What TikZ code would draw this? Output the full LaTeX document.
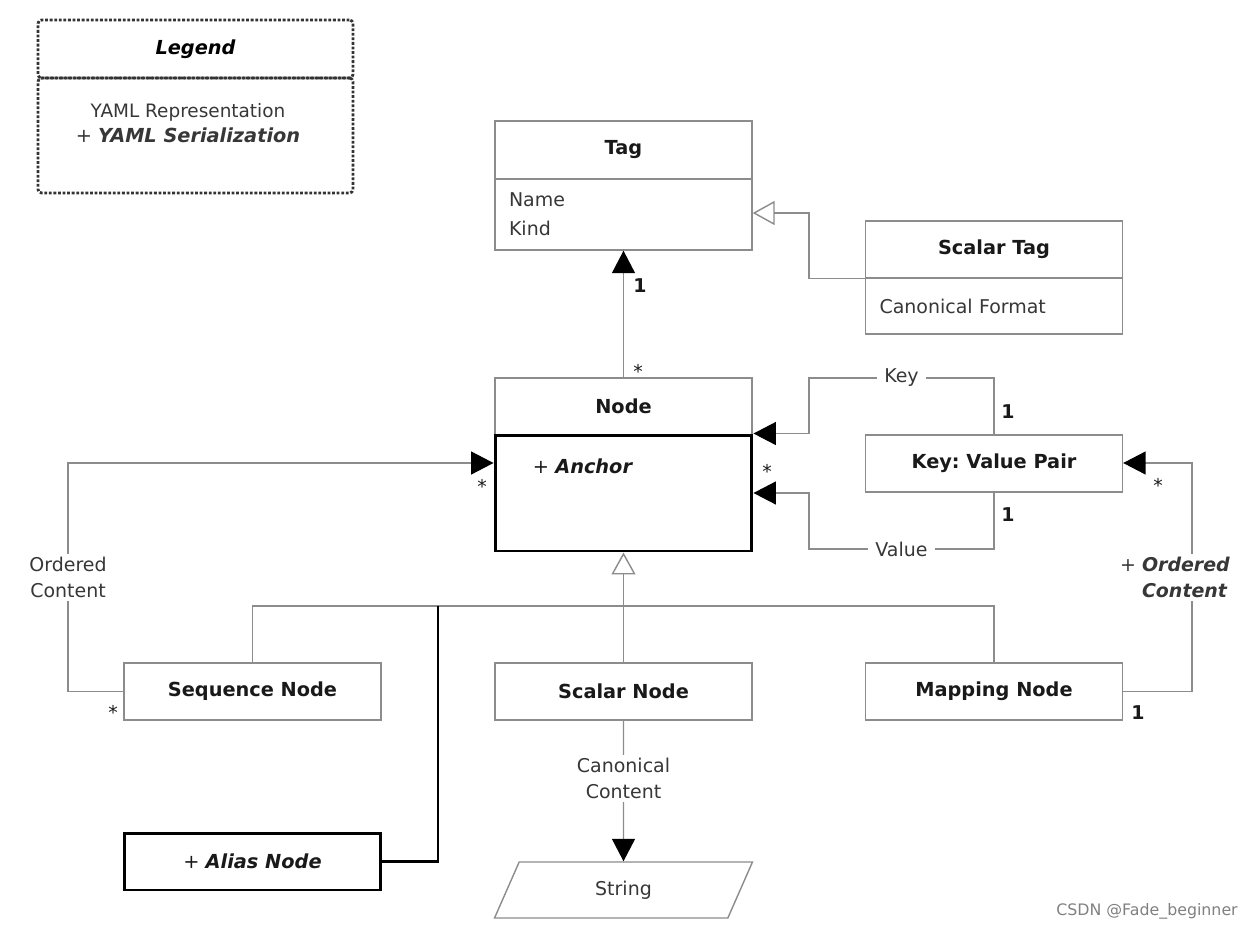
\documentclass[tikz,border=0pt]{standalone}
\usepackage{fontspec}
\setmainfont{DejaVu Sans}
\usetikzlibrary{arrows.meta,shapes.geometric}
\definecolor{linegray}{RGB}{140,140,140}
\definecolor{labelgray}{RGB}{55,55,55}

\begin{document}
\begin{tikzpicture}[x=0.02cm,y=-0.02cm]
    \tikzset{box/.style = {draw=linegray, line width=0.8pt, fill=white, minimum width=5.14cm, minimum height=1.14cm, inner sep=0pt, text=black!90, font=\fontsize{11}{13}\selectfont\bfseries}}
    \tikzset{heavybox/.style = {box, draw=black, line width=1.7pt}}
    \tikzset{attrbox/.style = {box, text=labelgray, font=\fontsize{10.8}{16.4}\selectfont, text width=4.58cm, align=left, inner xsep=0.28cm}}
    \tikzset{legendbox/.style = {draw=black!80, densely dotted, line width=1.6pt, minimum width=6.3cm, inner sep=0pt, font=\fontsize{11}{13}\selectfont\bfseries\itshape}}
    \tikzset{role/.style = {font=\fontsize{10.8}{14.5}\selectfont, text=labelgray, fill=white, inner xsep=4pt, inner ysep=2pt, align=center}}
    \tikzset{mult/.style = {font=\fontsize{10.8}{13}\selectfont\bfseries, text=black!90, inner sep=0pt}}
    \tikzset{many/.style = {font=\fontsize{10.8}{13}\selectfont, text=black!90, inner sep=0pt}}
    \tikzset{line/.style = {draw=linegray, line width=0.8pt}}
    \tikzset{heavy/.style = {draw=black, line width=1.7pt}}
    \tikzset{assoc/.style = {line, -{Triangle[length=0.45cm, width=0.46cm, color=black]}}}
    \tikzset{gen/.style = {line, -{Triangle[open, length=0.44cm, width=0.48cm, fill=white]}}}

    \useasboundingbox (0,0) rectangle (1258,930);

    % legend
    \node[legendbox, minimum height=1.16cm, rounded corners=2pt] (legt) at (195.5,49) {Legend};
    \node[legendbox, minimum height=2.3cm, rounded corners=2pt] (legb) at (195.5,135.5) {};
    \node[role, font=\fontsize{10.5}{14.5}\selectfont] (legtxt) at (188,123) {YAML Representation\\ {\fontsize{11}{13}\selectfont + \textbf{\textit{YAML Serialization}}}};

    % classes
    \node[box, minimum height=1.16cm] (tagt) at (623.5,150) {Tag};
    \node[attrbox, minimum height=1.42cm] (taga) at (623.5,214.5) {Name\\Kind};
    \node[box] (stagt) at (994,249.5) {Scalar Tag};
    \node[attrbox, minimum height=1.12cm] (staga) at (994,306) {Canonical Format};
    \node[box] (nodet) at (623.5,406.5) {Node};
    \node[heavybox, minimum height=2.32cm] (nodeb) at (623.5,493) {};
    \node[text=black!90, font=\fontsize{11}{13}\selectfont, inner sep=0pt] (anchor) at (583,466) {+ \textbf{\textit{Anchor}}};
    \node[box] (kvp) at (994,463.5) {Key:\ Value Pair};
    \node[box] (seqn) at (252.5,691.5) {Sequence Node};
    \node[box] (scaln) at (623.5,691.5) {Scalar Node};
    \node[box] (mapn) at (994,691.5) {Mapping Node};
    \node[heavybox, font=\fontsize{11}{13}\selectfont] (alias) at (252.5,861.5) {+ \textbf{\textit{Alias Node}}};
    \node[box, shape=trapezium, trapezium left angle=70, trapezium right angle=110, trapezium stretches=true, minimum width=5.16cm, minimum height=1.12cm, font=\fontsize{10.8}{13}\selectfont, text=labelgray] (str) at (623.5,890) {String};

    % generalizations
    \coordinate (gbend) at (809,213);
    \draw[gen] (stagt.south west) -| (gbend) -- (gbend -| taga.east);
    \coordinate (bus) at (623.5,606);
    \draw[gen] (bus) -- (nodeb.south);
    \draw[line] (seqn.north) |- (bus) -| (mapn.north);
    \draw[line] (scaln.north) -- (bus);
    \coordinate (abend) at (438,606);
    \draw[heavy] (alias.east) -| (abend);

    % associations
    \draw[assoc] (nodet.north) -- (taga.south);
    \coordinate (kbend) at (809,378);
    \draw[assoc] (kvp.north) |- node[role, pos=0.75] (keylbl) {Key} (kbend) |- (nodeb.north east);
    \coordinate (vbend) at (809,549);
    \draw[assoc] (kvp.south) |- node[role, pos=0.75] (vallbl) {Value} (vbend) |- (nodeb.east);
    \coordinate (sbend) at (68,463);
    \draw[assoc] (seqn.west) -| node[role, pos=0.75] (seqlbl) {Ordered\\Content} (sbend) -- (sbend -| nodeb.west);
    \coordinate (mbend) at (1192,463);
    \draw[assoc] (mapn.east) -| node[role, pos=0.75, xshift=-0.34cm, align=left] (maplbl) {+ \textbf{\textit{Ordered}}\\ \phantom{+ }\textbf{\textit{Content}}} (mbend) -- (mbend -| kvp.east);
    \draw[assoc] (scaln.south) -- node[role, pos=0.41] (canlbl) {Canonical\\Content} (str.north);

    % multiplicities
    \node[mult] (m1) at (640,286) {1};
    \node[many] (m2) at (638,371) {*};
    \node[mult] (m3) at (1008,412) {1};
    \node[mult] (m4) at (1008,515) {1};
    \node[many] (m5) at (767,471) {*};
    \node[many] (m6) at (482,486) {*};
    \node[many] (m7) at (113,712) {*};
    \node[many] (m8) at (1158,485) {*};
    \node[mult] (m9) at (1138,713) {1};

    \node[font=\fontsize{9}{11}\selectfont, text=gray] (mark) at (1147,911) {CSDN @Fade\_beginner};
\end{tikzpicture}
\end{document}
